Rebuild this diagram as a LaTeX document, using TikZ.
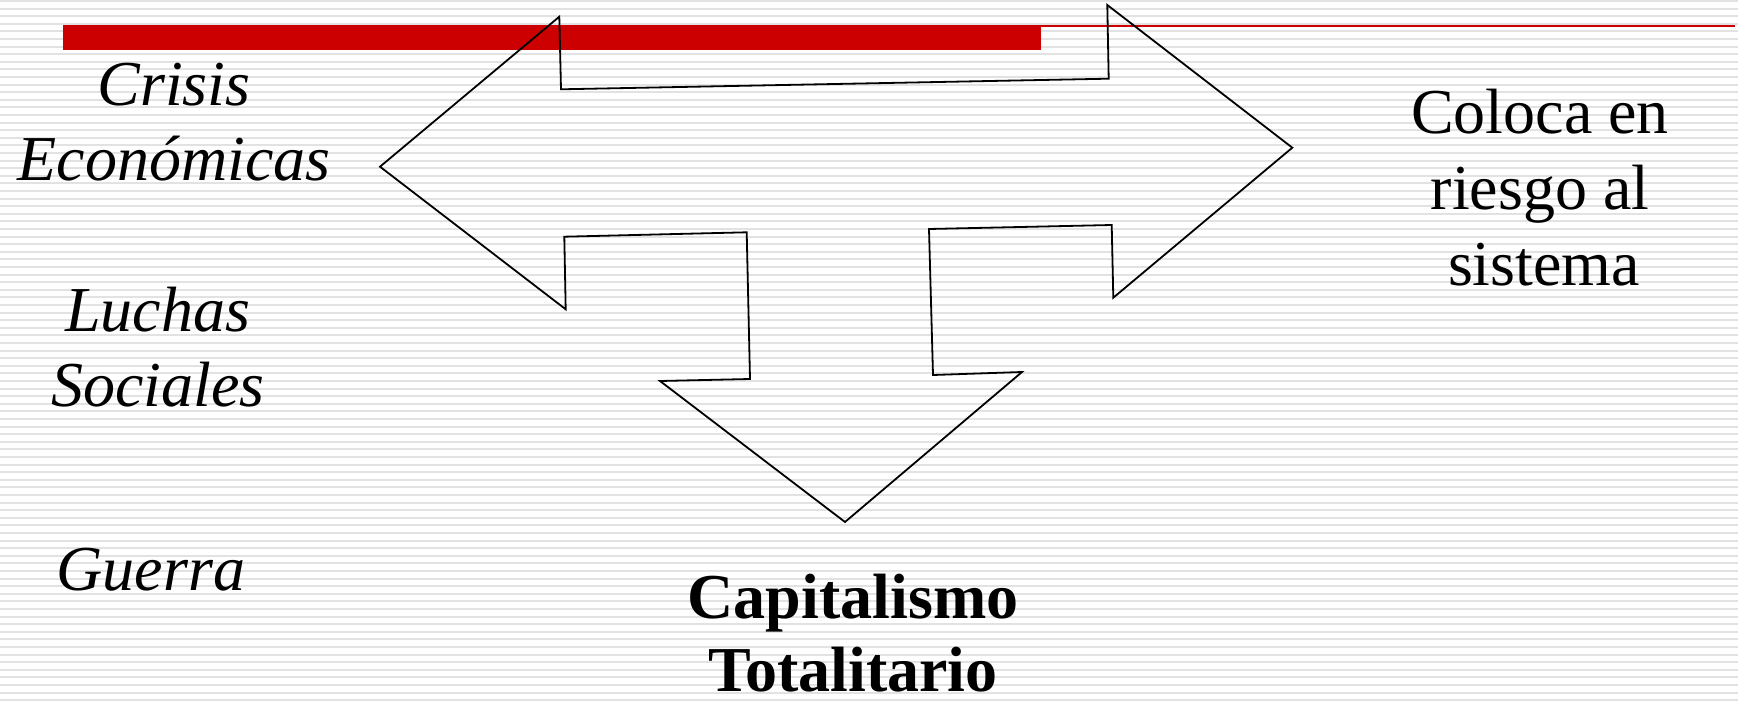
\documentclass[tikz,border=0pt]{standalone}
\usepackage{fontspec}
\setmainfont{Liberation Serif}
\definecolor{barred}{HTML}{CC0000}
\definecolor{stripe}{HTML}{E2E2E2}
\tikzset{
  lbl/.style={inner sep=0pt, anchor=base, font=\fontsize{64}{76}\selectfont},
  lbli/.style={lbl, font=\fontsize{64}{76}\selectfont\itshape},
  lblb/.style={lbl, font=\fontsize{64}{76}\selectfont\bfseries},
  outline/.style={draw=black, line width=1.8pt, line join=miter}
}
\begin{document}
\begin{tikzpicture}[x=1pt,y=-1pt]
\useasboundingbox (0,0) rectangle (1738,701);
\fill[white] (0,0) rectangle (1738,701);
% background stripes
\foreach \k in {0,...,92} {
  \draw[stripe, line width=2pt] (0,{1+7.6*\k}) -- (1738,{1+7.6*\k});
}
% red bar and line
\fill[barred] (63,25) rectangle (1041,50);
\draw[barred, line width=1.8pt] (1041,26) -- (1735,26);
% three-way arrow
\draw[outline] (380,166.7) -- (559.3,16.7) -- (561,89.3) -- (1108.7,78.7)
  -- (1107.3,5) -- (1292.3,147.7) -- (1113.3,297.7) -- (1111.7,225)
  -- (929,229) -- (933,375) -- (1022,372) -- (845,522) -- (660,381)
  -- (750,379) -- (746.7,232.3) -- (564.3,236.7) -- (565.7,309.3) -- cycle;
% texts
\node[lbli] (t1) at (174,105) {Crisis};
\node[lbli] (t2) at (174,180) {Económicas};
\node[lbli] (t3) at (157.5,331.7) {Luchas};
\node[lbli] (t4) at (158,406.7) {Sociales};
\node[lbli] (t5) at (151,590) {Guerra};
\node[lbl] (r1) at (1540,133) {Coloca en};
\node[lbl] (r2) at (1540,209) {riesgo al};
\node[lbl] (r3) at (1544,285) {sistema};
\node[lblb] (b1) at (853,618) {Capitalismo};
\node[lblb] (b2) at (853,691) {Totalitario};
\end{tikzpicture}
\end{document}
